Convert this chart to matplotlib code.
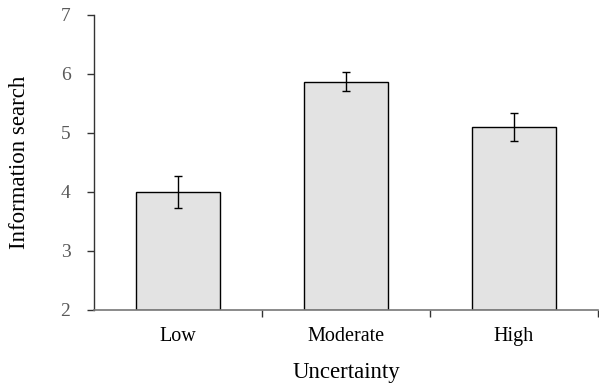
import matplotlib
matplotlib.use("Agg")
import matplotlib.pyplot as plt
import numpy as np

categories = ["Low", "Moderate", "High"]
means = [4.00, 5.87, 5.10]
errors = [0.265, 0.165, 0.235]
yticks = [2, 3, 4, 5, 6, 7]

plt.rcParams['font.family'] = ['Liberation Serif', 'DejaVu Serif']

fig = plt.figure(figsize=(5.99, 3.86), dpi=100)
ax = fig.add_axes([94/599, 1-310/386, (598-94)/599, (310-15)/386])

x = np.arange(len(categories))
ax.bar(x, np.array(means) - 2, bottom=2, width=0.5, color="#e3e3e3",
       edgecolor="black", linewidth=1.0, zorder=2)
ax.errorbar(x, means, yerr=errors, fmt="none", ecolor="black",
            elinewidth=1.0, capsize=3, capthick=1.0, zorder=3)

ax.set_xlim(-0.5, 2.5)
ax.set_ylim(2, 7)
ax.set_yticks(yticks)
ax.set_yticklabels([str(t) for t in yticks], color="#595959", fontsize=14)
ax.set_xticks(x)
ax.set_xticklabels(categories, fontsize=14.5)
ax.set_xticks([0.5, 1.5, 2.5], minor=True)
ax.tick_params(axis="x", which="major", length=0, pad=12)
ax.tick_params(axis="x", which="minor", length=5, direction="out", color="#333333", width=1)
ax.tick_params(axis="y", length=5, direction="out", color="#333333", width=1, pad=12)

for s in ["top", "right"]:
    ax.spines[s].set_visible(False)
ax.spines["left"].set_color("#333333")
ax.spines["bottom"].set_color("#777777")
ax.spines["left"].set_linewidth(1)
ax.spines["bottom"].set_linewidth(1.2)

ax.set_xlabel("Uncertainty", fontsize=16.5, labelpad=12)
ax.set_ylabel("Information search", fontsize=16.5, labelpad=22)

fig.savefig("out.png", dpi=100)
